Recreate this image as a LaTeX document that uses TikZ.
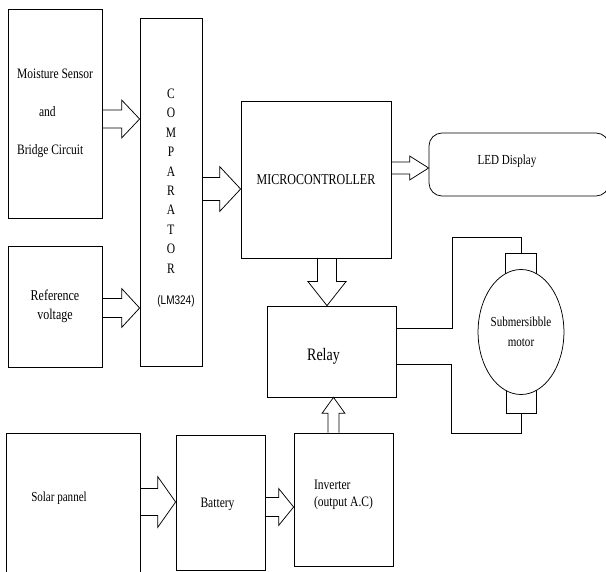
\documentclass[tikz,border=0pt]{standalone}
\usepackage{fontspec}
\setmainfont{Liberation Serif}[FakeStretch=0.8]
\newfontfamily\chipfont{Liberation Sans}[FakeStretch=0.8]
\usepackage{tikz}
\usetikzlibrary{positioning, calc, shapes.geometric, backgrounds}

% hollow block arrow: from, to, stem half width, head half width, head length
\newcommand{\fatarrow}[5]{%
  \draw let \p1=(#1), \p2=(#2), \n1={veclen(\x2-\x1,\y2-\y1)}, \n2={atan2(\y2-\y1,\x2-\x1)} in
    [shift={(\p1)}, rotate=\n2]
    (0pt,#3pt) -- (\n1-#5pt,#3pt) -- (\n1-#5pt,#4pt) -- (\n1,0pt)
    -- (\n1-#5pt,-#4pt) -- (\n1-#5pt,-#3pt) -- (0pt,-#3pt);}

\begin{document}
\begin{tikzpicture}[x=1pt, y=1pt, line width=0.75pt,
  blk/.style={draw, inner sep=0pt, align=center, font=\fontsize{14.4}{14}\selectfont}]
\useasboundingbox (0,0) rectangle (606,-572);
% sensing side
\node[blk, minimum width=94pt, minimum height=209pt, align=left] (moist) at (55,-113.5)
  {Moisture Sensor\\[24pt]\hspace*{22pt}and\\[24pt]Bridge Circuit};
\node[blk, minimum width=94pt, minimum height=121pt, font=\fontsize{15}{19}\selectfont] (refv) at (55,-306.5)
  {Reference\\voltage};
\node[blk, minimum width=62pt, minimum height=348pt,
  label={[align=center, font=\fontsize{14.4}{19.4}\selectfont, yshift=-6pt]center:%
  C\\O\\M\\P\\A\\R\\A\\T\\O\\R\\[12pt]\hspace*{10pt}{\chipfont\fontsize{12.5}{12}\selectfont(LM324)}}] (comp) at (171,-192) {};
% control side
\node[blk, minimum width=150pt, minimum height=157pt, font=\fontsize{15}{14}\selectfont] (micro) at (316,-179.5)
  {MICROCONTROLLER};
\node[draw, rounded corners=13pt, minimum width=180pt, minimum height=63pt,
  label={[font=\fontsize{13.8}{13}\selectfont, xshift=-12pt, yshift=3pt]center:LED Display}] (led) at (519,-164.5) {};
\node[blk, minimum width=129pt, minimum height=91pt,
  label={[font=\fontsize{17.5}{16}\selectfont, xshift=-8pt, yshift=-5pt]center:Relay}] (relay) at (331.5,-351.5) {};
% motor with its two terminals
\node[draw, ellipse, fill=white, inner sep=0pt, minimum width=83pt, minimum height=125pt,
  align=center, font=\fontsize{13.8}{20}\selectfont] (motor) at (521,-332) {Submersibble\\motor};
\begin{scope}[on background layer]
\node[draw, inner sep=0pt, minimum width=31pt, minimum height=37pt, anchor=north] (tterm)
  at ([yshift=16.5pt]motor.north) {};
\node[draw, inner sep=0pt, minimum width=30pt, minimum height=37pt, anchor=south] (bterm)
  at ([yshift=-19pt]motor.south) {};
\end{scope}
% power side
\node[blk, minimum width=134pt, minimum height=145pt,
  label={[font=\fontsize{13.8}{13}\selectfont, xshift=-14pt, yshift=7.5pt]center:Solar pannel}] (solar) at (73,-505.5) {};
\node[blk, minimum width=89pt, minimum height=135pt,
  label={[font=\fontsize{14.4}{14}\selectfont, xshift=-3pt, yshift=-2pt]center:Battery}] (bat) at (220.5,-502.5) {};
\node[blk, minimum width=99pt, minimum height=133pt,
  label={[align=left, font=\fontsize{14.4}{17}\selectfont, yshift=5pt]center:Inverter\\(output A.C)}] (inv) at (343.5,-499.5) {};
% relay to motor wiring
\coordinate (relayhi) at ($(relay.north east)!0.25!(relay.south east)$);
\coordinate (relaylo) at ([yshift=33pt]relay.south east);
\draw (relayhi) -- ++(56,0) |- ([yshift=15pt]tterm.north) -- (tterm.north);
\draw (relaylo) -- ++(55,0) |- ([yshift=-20pt]bterm.south) -- (bterm.south);
% block arrows
\coordinate (a1) at ([yshift=-5.5pt]moist.east);
\fatarrow{a1}{a1 -| comp.west}{9}{19}{18}
\coordinate (a2) at ([yshift=-1.5pt]refv.east);
\fatarrow{a2}{a2 -| comp.west}{9.5}{19.5}{18}
\coordinate (a3) at ([yshift=3pt]comp.east);
\fatarrow{a3}{a3 -| micro.west}{11.5}{22.5}{21}
\coordinate (a4) at ([yshift=11.5pt]micro.east);
\fatarrow{a4}{a4 -| led.west}{6}{12}{19}
\coordinate (a5) at ([xshift=11pt]micro.south);
\fatarrow{a5}{a5 |- relay.north}{9.5}{19}{24}
\coordinate (a6) at ([xshift=-10pt]inv.north);
\fatarrow{a6}{a6 |- relay.south}{5.5}{11.5}{16}
\coordinate (a7) at ([yshift=3.5pt]solar.east);
\fatarrow{a7}{a7 -| bat.west}{13.5}{25.5}{18}
\coordinate (a8) at ([yshift=-4.5pt]bat.east);
\fatarrow{a8}{a8 -| inv.west}{9.5}{18.5}{15}
\end{tikzpicture}
\end{document}
